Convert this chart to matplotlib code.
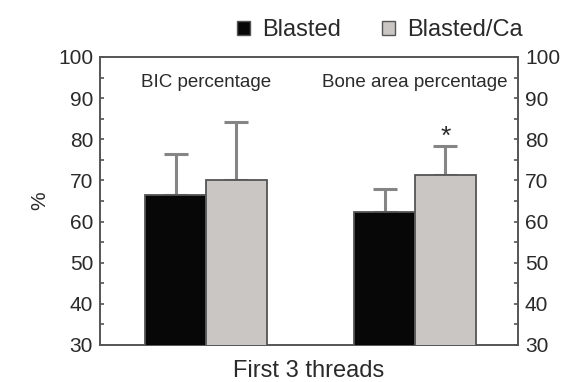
import matplotlib
matplotlib.use('Agg')
import numpy as np
import matplotlib.pyplot as plt
from matplotlib.patches import Patch
from matplotlib.ticker import MultipleLocator

plt.rcParams['font.family'] = ['Liberation Sans', 'DejaVu Sans']

# data
groups = ['BIC percentage', 'Bone area percentage']
blasted = [66.5, 62.2]
blasted_err = [9.8, 5.6]
blasted_ca = [70.0, 71.2]
blasted_ca_err = [14.1, 7.2]
star_group = 1          # significant difference marker
star_y = 80.6

txt = '#2a2a2a'
edge = '#555555'
black = '#070707'
grey = '#cac6c3'
errc = '#858585'

fig = plt.figure(figsize=(5.66, 3.82), dpi=100)
ax = fig.add_axes([0.1767, 0.0969, 0.7385, 0.754])

x = np.arange(len(groups))
w = 0.29
ax.bar(x - w / 2, blasted, w, color=black, edgecolor=edge, linewidth=1.3, zorder=3)
ax.bar(x + w / 2, blasted_ca, w, color=grey, edgecolor=edge, linewidth=1.3, zorder=3)

# only the upper half of the error bars is shown
ax.errorbar(x - w / 2, blasted, yerr=[np.zeros(2), blasted_err], fmt='none',
            ecolor=errc, elinewidth=2.2, capsize=8.5, capthick=2.2, zorder=2)
ax.errorbar(x + w / 2, blasted_ca, yerr=[np.zeros(2), blasted_ca_err], fmt='none',
            ecolor=errc, elinewidth=2.2, capsize=8.5, capthick=2.2, zorder=2)

ax.text(x[star_group] + w / 2, star_y, '*', ha='center', va='center',
        fontsize=19, color=txt)

# group titles inside the plot
ax.text(x[0], 93.8, groups[0], ha='center', va='center', fontsize=13.5, color=txt)
ax.text(x[1], 93.8, groups[1], ha='center', va='center', fontsize=13.5, color=txt)

ax.set_xlim(-0.507, 1.493)
ax.set_ylim(30, 100)
ax.yaxis.set_major_locator(MultipleLocator(10))
ax.yaxis.set_minor_locator(MultipleLocator(5))
ax.tick_params(axis='y', which='both', direction='in', length=3, width=1.2,
               color=edge, left=True, right=True, labelleft=True, labelright=True,
               labelsize=15, labelcolor=txt, pad=5)
ax.tick_params(axis='x', bottom=False, labelbottom=False)
for s in ax.spines.values():
    s.set_color(edge)
    s.set_linewidth(1.4)

ax.set_ylabel('%', fontsize=15, color=txt, labelpad=6)
ax.set_xlabel('First 3 threads', fontsize=17, color=txt, labelpad=11)

handles = [Patch(facecolor=black, edgecolor=edge, label='Blasted'),
           Patch(facecolor=grey, edgecolor=edge, label='Blasted/Ca')]
fig.legend(handles=handles, loc='center right', bbox_to_anchor=(535 / 566, 1 - 30 / 382),
           ncol=2, frameon=False, fontsize=17, handlelength=0.55, handleheight=0.55,
           handletextpad=0.55, columnspacing=1.7, borderpad=0, labelcolor=txt)

fig.savefig('out.png', dpi=100)
